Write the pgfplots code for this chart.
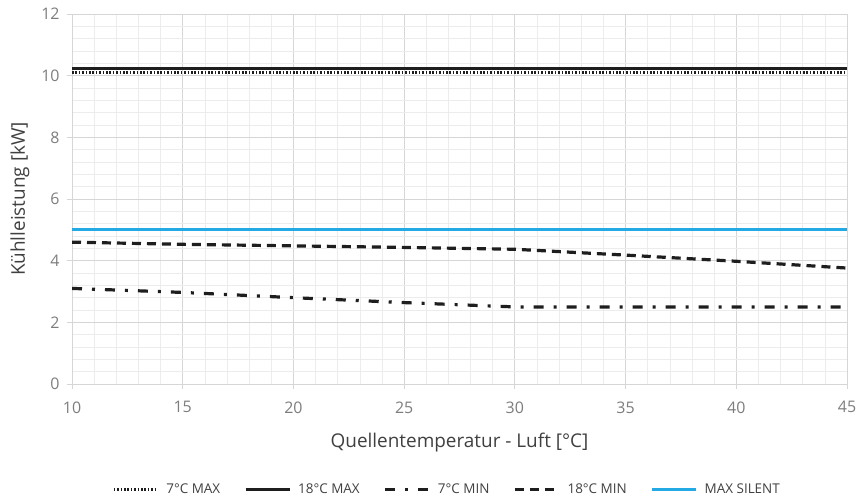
\documentclass[border=0pt]{standalone}
\usepackage{fontspec}
\setmainfont{Open Sans}
\usepackage{pgfplots}
\pgfplotsset{compat=1.18}
\definecolor{silent}{RGB}{35,170,228}
\definecolor{tickgray}{RGB}{125,125,125}
\definecolor{labgray}{RGB}{64,64,64}
\definecolor{majgrid}{RGB}{214,214,214}
\definecolor{mingrid}{RGB}{236,236,236}
\definecolor{linek}{RGB}{30,30,30}
\begin{document}
\begin{tikzpicture}
\begin{axis}[
    name=ax,
    at={(72bp,117bp)}, anchor=south west,
    scale only axis,
    width=775bp, height=370bp,
    xmin=10, xmax=45, ymin=0, ymax=12,
    xtick={10,15,...,45}, ytick={0,2,...,12},
    minor x tick num=4, minor y tick num=4,
    grid=both,
    major grid style={majgrid, line width=0.8pt},
    minor grid style={mingrid, line width=0.5pt},
    axis x line*=bottom, axis y line*=left,
    axis line style={-, majgrid, line width=0.8pt},
    tick align=outside,
    major tick length=5bp, minor tick length=0pt,
    tick style={majgrid, line width=0.8pt},
    /pgf/number format/assume math mode=true,
    ticklabel style={font=\fontsize{16}{19}\selectfont, text=tickgray},
    xticklabel style={yshift=-9bp},
    yticklabel style={xshift=-4bp},
    xlabel={Quellentemperatur - Luft [°C]},
    ylabel={Kühlleistung [kW]},
    label style={font=\fontsize{19}{23}\selectfont, text=labgray},
    xlabel style={at={(axis description cs:0.5,-0.157)}, anchor=center},
    ylabel style={at={(axis description cs:-0.067,0.5)}, anchor=center},
    legend style={at={(0.484,-0.286)}, anchor=center, draw=none, fill=none,
        font=\fontsize{13.5}{15}\selectfont, text=labgray,
        legend columns=5,
        /tikz/every odd column/.append style={column sep=5bp},
        /tikz/every even column/.append style={column sep=22bp}},
    legend image code/.code={\draw[#1] (0bp,0bp) -- (44bp,0bp);},
]
\addplot[linek, line width=3bp, dash pattern=on 1.6bp off 1.8bp] coordinates {(10,10.1) (45,10.1)};
\addplot[linek, line width=3bp] coordinates {(10,10.22) (45,10.22)};
\addplot[linek, line width=3.2bp, dash pattern=on 10bp off 10bp on 3bp off 10bp] coordinates {
(10,3.10) (15,2.97) (20,2.80) (25,2.64) (30,2.50) (35,2.50) (40,2.50) (45,2.50)};
\addplot[linek, line width=3.2bp, dash pattern=on 9bp off 6bp] coordinates {
(10,4.60) (15,4.53) (20,4.48) (25,4.43) (30,4.37) (35,4.18) (40,3.98) (45,3.76)};
\addplot[silent, line width=3bp] coordinates {(10,5.0) (45,5.0)};
\legend{7°C MAX, 18°C MAX, 7°C MIN, 18°C MIN, MAX SILENT}
\end{axis}
\pgfresetboundingbox
\path (0,0) rectangle (863bp,501bp);
\end{tikzpicture}
\end{document}
